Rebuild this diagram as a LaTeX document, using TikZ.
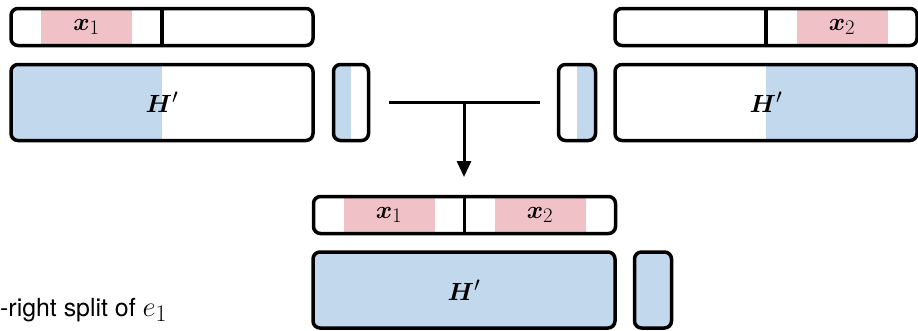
\documentclass[tikz,border=0pt]{standalone}
\usepackage{fontspec}
\setsansfont{TeX Gyre Heros}
\usepackage{bm}
\usetikzlibrary{arrows.meta}
\definecolor{pinkc}{RGB}{241,193,200}
\definecolor{bluec}{RGB}{193,216,237}
\begin{document}
\begin{tikzpicture}[x=1pt, y=-1pt, font=\Huge,
  box/.style={draw, line width=3.5pt, rounded corners=7pt, inner sep=0pt},
  bar/.style={box, minimum width=302pt, minimum height=37pt},
  hbox/.style={box, minimum width=302pt, minimum height=76pt},
  sbox/.style={box, minimum width=36pt, minimum height=76pt},
  pinkbox/.style={fill=pinkc, inner sep=0pt, minimum width=91pt, minimum height=36pt},
  fillleft/.style={path picture={\fill[bluec, sharp corners] (path picture bounding box.south west) rectangle (path picture bounding box.north);}},
  fillright/.style={path picture={\fill[bluec, sharp corners] (path picture bounding box.south) rectangle (path picture bounding box.north east);}},
  fillall/.style={fill=bluec},
  divider/.style={line width=3.5pt},
  conn/.style={line width=3pt},
  lbl/.style={inner sep=0pt, font=\Huge\sffamily}
]
\useasboundingbox (0,0) rectangle (918,330);

% top left group
\node[pinkbox] (tx1) at (86.5,27) {$\bm{x}_1$};
\node[bar] (t1) at (162,27) {};
\draw[divider] (t1.north) -- (t1.south);
\node[hbox, fillleft] (h1) at (162,102.5) {$\bm{H}'$};
\node[sbox, fillleft, minimum width=35pt] (s1) at (351,102.5) {};

% top right group
\node[pinkbox] (tx2) at (842,27) {$\bm{x}_2$};
\node[bar] (t2) at (766,27) {};
\draw[divider] (t2.north) -- (t2.south);
\node[hbox, fillright] (h2) at (766,102.5) {$\bm{H}'$};
\node[sbox, fillright, minimum width=37pt] (s2) at (577,102.5) {};

% bottom group
\node[pinkbox] (bx1) at (389,215) {$\bm{x}_1$};
\node[pinkbox] (bx2) at (540,215) {$\bm{x}_2$};
\node[bar] (b1) at (464.5,215) {};
\draw[divider] (b1.north) -- (b1.south);
\node[hbox, fillall] (bh) at (464,290) {$\bm{H}'$};
\node[sbox, fillall, minimum width=37pt] (bs) at (653,290) {};

% connector
\coordinate (jl) at (bx1 |- h1);
\coordinate (jr) at (bx2 |- h1);
\coordinate (jm) at (464,102.5);
\coordinate (tip) at (464,177);
\draw[conn] (jl) -- (jr);
\draw[conn, -{Triangle[length=16pt,width=14pt]}] (jm) -- (tip);

% caption
\node[lbl, anchor=base west] (cap) at (0,316) {-right split of \scalebox{1.15}{$e_1$}};
\end{tikzpicture}
\end{document}
